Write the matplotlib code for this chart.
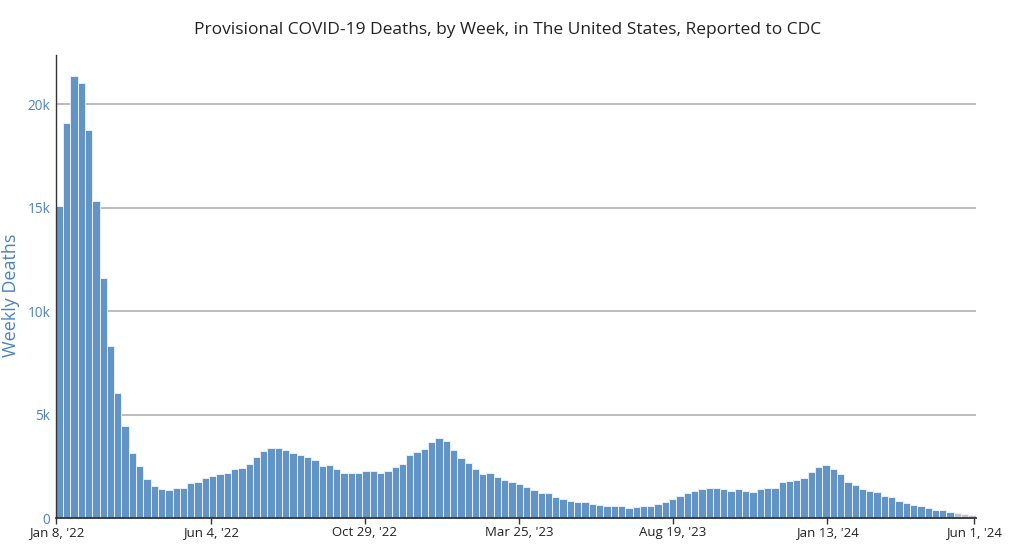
import matplotlib
matplotlib.use("Agg")
import matplotlib.pyplot as plt
import numpy as np
import pandas as pd

# weekly deaths, week ending Jan 8 '22 .. Jun 1 '24
weeks = pd.date_range("2022-01-08", "2024-06-01", freq="7D")
deaths = [
    15100, 19100, 21350, 21000, 18760, 15300, 11580, 8300, 6040, 4430,
    3130, 2510, 1900, 1550, 1400, 1340, 1430, 1430, 1680, 1750,
    1920, 2010, 2130, 2190, 2350, 2430, 2590, 2930, 3220, 3400,
    3370, 3290, 3160, 3040, 2930, 2820, 2510, 2540, 2380, 2190,
    2160, 2190, 2260, 2260, 2190, 2260, 2480, 2610, 3040, 3190,
    3330, 3660, 3860, 3700, 3270, 2900, 2640, 2350, 2110, 2160,
    1980, 1840, 1740, 1660, 1480, 1370, 1220, 1190, 1030, 930,
    840, 760, 760, 690, 630, 600, 580, 560, 500, 520,
    560, 560, 660, 760, 920, 1080, 1190, 1300, 1400, 1430,
    1470, 1400, 1320, 1400, 1290, 1260, 1400, 1430, 1430, 1720,
    1790, 1840, 1930, 2210, 2480, 2560, 2350, 2130, 1720, 1590,
    1390, 1300, 1240, 1080, 1010, 840, 710, 610, 560, 480,
    390, 390, 310, 240, 210, 130,
]
# the last weeks are still incomplete (drawn grey)
n_incomplete = 3

tick_labels = ["Jan 8, '22", "Jun 4, '22", "Oct 29, '22", "Mar 25, '23",
               "Aug 19, '23", "Jan 13, '24", "Jun 1, '24"]
ytick_vals = [0, 5000, 10000, 15000, 20000]
ytick_labels = ["0", "5k", "10k", "15k", "20k"]

blue = "#6295c5"
grey = "#c3c3c3"
label_blue = "#4a82bd"

plt.rcParams["font.family"] = ["Open Sans", "DejaVu Sans"]

fig = plt.figure(figsize=(10.24, 5.45), dpi=100)
ax = fig.add_axes([0.0544, 0.0495, 0.8984, 0.8495])

n = len(deaths)
colors = [blue] * (n - n_incomplete) + [grey] * n_incomplete
ax.bar(np.arange(n), deaths, width=1.0, align="edge", color=colors,
       edgecolor="#e9eff7", linewidth=0.7, zorder=2)

ax.set_xlim(0, n)
ax.set_ylim(0, 22370)

for v in ytick_vals[1:]:
    ax.axhline(v, color="#a9a9a9", linewidth=1.1, zorder=1)

# tick dates sit on the time scale Jan 8 '22 .. Jun 1 '24
tick_dates = pd.to_datetime(["2022-01-08", "2022-06-04", "2022-10-29", "2023-03-25",
                             "2023-08-19", "2024-01-13", "2024-06-01"])
span = (weeks[-1] - weeks[0]).days
tick_pos = [(d - weeks[0]).days / span * (n - 0.35) + 0.1 for d in tick_dates]
ax.set_xticks(tick_pos)
ax.set_xticklabels(tick_labels, fontsize=9.5, color="#222222")
ax.set_yticks(ytick_vals)
ax.set_yticklabels(ytick_labels, fontsize=9.8, color=label_blue)
ax.tick_params(axis="x", length=4, width=1, color="#333333", pad=2)
ax.tick_params(axis="y", length=0, pad=4)

for side in ["top", "right"]:
    ax.spines[side].set_visible(False)
ax.spines["left"].set_color("#333333")
ax.spines["bottom"].set_color("#333333")
ax.spines["bottom"].set_linewidth(1.3)
ax.spines["left"].set_linewidth(1.0)

ax.set_ylabel("Weekly Deaths", fontsize=13, color=label_blue)
ax.yaxis.set_label_coords(-0.039, 0.48)
fig.text(0.496, 0.945, "Provisional COVID-19 Deaths, by Week, in The United States, Reported to CDC",
         ha="center", va="center", fontsize=12.5, color="#222222")

fig.savefig("out.png", dpi=100)
